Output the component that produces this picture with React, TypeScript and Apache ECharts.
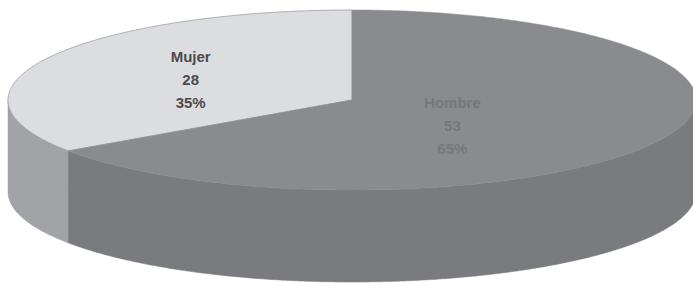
import React, { useEffect, useRef } from "react";
import * as echarts from "echarts";

const categories = ["Mujer", "Hombre"];
const values = [28, 53];
const topColors = ["#dcdde0", "#8a8b8f"];
const sideColors = ["#a2a3a7", "#7a7b7f"];
const labelColors = ["#4b4b4e", "#76777b"];

// geometry of the 3D pie (layout, not data)
const CX = 352;
const CY = 100;
const RX = 344;
const RY = 90;
const DEPTH = 92;
const labelRadius = [0.53, 0.33];
const labelDy = [2, 12];

export default function App() {
  const ref = useRef<HTMLDivElement>(null);
  useEffect(() => {
    if (!ref.current) return;
    const chart = echarts.init(ref.current, null, { renderer: "svg" });
    const total = values.reduce((a, b) => a + b, 0);
    const starts: number[] = [];
    let acc = 0;
    values.forEach((v) => {
      starts.push(90 + (acc / total) * 360);
      acc += v;
    });
    const P = (t: number, dy: number) => {
      const r = (t * Math.PI) / 180;
      return [CX + RX * Math.cos(r), CY - RY * Math.sin(r) + dy];
    };
    const arc = (a: number, b: number, dy: number) => {
      const pts: number[][] = [];
      const n = Math.max(2, Math.ceil(Math.abs(b - a) * 2));
      for (let i = 0; i <= n; i++) pts.push(P(a + ((b - a) * i) / n, dy));
      return pts;
    };
    const renderItem = (params: any, api: any) => {
      const i = params.dataIndex;
      const v = api.value(0);
      const s = starts[i];
      const e = s + (v / total) * 360;
      const children: any[] = [];
      for (const k of [0, 360]) {
        const a = Math.max(s, 180 + k);
        const b = Math.min(e, 360 + k);
        if (b > a) {
          const top = arc(a, b, 0);
          const bot = arc(a, b, DEPTH).reverse();
          children.push({
            type: "polygon",
            shape: { points: top.concat(bot) },
            style: { fill: sideColors[i], stroke: sideColors[i], lineWidth: 0.5 },
            z2: 1,
          });
        }
      }
      const topPts = [[CX, CY]].concat(arc(s, e, 0));
      children.push({
        type: "polygon",
        shape: { points: topPts },
        style: {
          fill: topColors[i],
          stroke: i === 0 ? "#9c9da1" : topColors[i],
          lineWidth: i === 0 ? 0.8 : 0.5,
        },
        z2: 2,
      });
      const mid = (s + e) / 2;
      const mr = (mid * Math.PI) / 180;
      const lx = CX + RX * labelRadius[i] * Math.cos(mr);
      const ly = CY - RY * labelRadius[i] * Math.sin(mr) + labelDy[i];
      const pct = Math.round((v / total) * 100);
      children.push({
        type: "text",
        z2: 5,
        style: {
          text: `${categories[i]}\n${v}\n${pct}%`,
          x: lx,
          y: ly,
          align: "center",
          verticalAlign: "middle",
          fontFamily: "Liberation Sans, Arial, sans-serif",
          fontSize: 15,
          fontWeight: "bold",
          lineHeight: 23,
          fill: labelColors[i],
        },
      });
      return { type: "group", children };
    };
    chart.setOption({
      animation: false,
      backgroundColor: "#ffffff",
      series: [
        {
          type: "custom",
          coordinateSystem: "none",
          renderItem,
          data: values.map((v, i) => ({ name: categories[i], value: [v, i] })),
        },
      ],
    });
    return () => chart.dispose();
  }, []);
  return (
    <div
      ref={ref}
      style={{ position: "absolute", left: 0, top: 0, width: 693, height: 283 }}
    />
  );
}
